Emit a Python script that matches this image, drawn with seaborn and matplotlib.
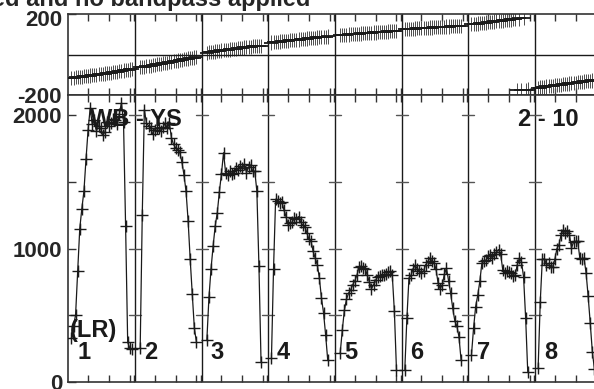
import numpy as np
import pandas as pd
import seaborn as sns
import matplotlib.pyplot as plt
from matplotlib import transforms

nan = np.nan

# channel amplitudes per IF (32 channels each)
amp_if1 = [nan, 330, 420, 505, 830, 1150, 1300, 1430, 1670, 1890, 2050, 1930, 1960, 1880, 1920, 1900,
           1850, 1870, 1950, 1920, 1940, 1970, 1960, 1930, 2010, 2090, 1950, 1170, 300, 255, 250, nan]
amp_if2 = [nan, nan, 255, 1255, 2040, 1940, 1920, 1905, 1855, 1890, 1905, 1900, 1880, 1910, 1940, 1900,
           1940, 1830, 1780, 1755, 1740, 1720, 1650, 1555, 1430, 1210, 920, 660, 405, 300, nan, nan]
amp_if3 = [nan, nan, 318, 635, 850, 1018, 1170, 1268, 1425, 1560, 1718, 1570, 1555, 1580, 1560, 1570,
           1600, 1585, 1620, 1600, 1630, 1570, 1610, 1625, 1580, 1580, 1430, 868, 155, nan, nan, nan]
amp_if4 = [nan, 180, 850, 1370, 1360, 1340, 1350, 1290, 1240, 1180, 1190, 1200, 1230, 1225, 1240, 1200,
           1175, 1165, 1120, 1070, 1055, 980, 930, 880, 780, 630, 520, 355, 168, nan, nan, nan]
amp_if5 = [nan, nan, 220, 390, 540, 620, 667, 690, 730, 760, 800, 860, 870, 855, 850, 800,
           750, 700, 730, 765, 790, 795, 800, 805, 810, 825, 830, 800, 530, 95, nan, nan]
amp_if6 = [nan, 95, 480, 780, 800, 850, 875, 850, 830, 820, 830, 880, 900, 930, 910, 895,
           845, 740, 700, 730, 810, 855, 760, 667, 555, 460, 420, 340, 168, nan, nan, nan]
amp_if7 = [nan, 205, 405, 567, 650, 755, 893, 905, 915, 945, 955, 930, 960, 975, 993, 960,
           843, 818, 830, 825, 818, 793, 805, 880, 930, 900, 790, 480, 80, nan, nan, nan]
amp_if8 = [nan, 110, 600, 920, 925, 880, 890, 860, 860, 920, 1000, 1030, 1105, 1140, 1120, 1130,
           1105, 1005, 1050, 1055, 1055, 930, 920, 930, 820, 643, 443, 230, 100, nan, nan, nan]

# channel phases per IF (degrees)
ph_if1 = [-118, -116, -115, -113, -112, -110, -111, -108, -106, -105, -104, -102, -101, -100, -98, -98,
          -96, -94, -93, -92, -90, -88, -88, -85, -83, -80, -79, -77, -76, -74, -73, -72]
ph_if2 = [-66, -64, -63, -61, -60, -58, -56, -55, -52, -51, -48, -47, -45, -43, -41, -40,
          -37, -35, -34, -31, -30, -28, -26, -24, -22, -20, -18, -16, -15, -13, -12, -10]
ph_if3 = [6, 8, 9, 11, 12, 14, 15, 17, 18, 20, 21, 22, 24, 25, 27, 28,
          29, 31, 32, 33, 35, 36, 37, 38, 40, 41, 42, 43, 44, 45, 46, 47]
ph_if4 = [57, 59, 60, 61, 62, 64, 65, 66, 67, 68, 70, 71, 72, 73, 74, 75,
          77, 78, 79, 80, 81, 82, 83, 84, 85, 86, 87, 88, 89, 90, 90, 91]
ph_if5 = [94, 95, 96, 97, 97, 98, 99, 100, 101, 102, 102, 103, 104, 105, 105, 106,
          107, 108, 109, 109, 110, 111, 112, 112, 113, 114, 115, 116, 116, 117, 118, 118]
ph_if6 = [124, 125, 125, 126, 127, 127, 128, 129, 129, 130, 131, 131, 132, 133, 133, 134,
          135, 135, 136, 137, 137, 138, 138, 139, 140, 140, 141, 141, 142, 142, 143, 143]
ph_if7 = [148, 150, 151, 152, 153, 155, 156, 157, 158, 160, 161, 162, 163, 165, 166, 167,
          168, 170, 171, 172, 173, 174, 176, -175, 178, -176, 179, -174, -173, -172, -171, -170]
ph_if8 = [-166, -164, -163, -161, -160, -158, -157, -156, -154, -153, -151, -150, -149, -147, -146, -144,
          -143, -142, -140, -139, -137, -136, -135, -133, -132, -130, -129, -128, -126, -125, -123, -122]

if_labels = ['1', '2', '3', '4', '5', '6', '7', '8']
amp_ticks = [0, 500, 1000, 1500, 2000]
amp_labels = ['0', '', '1000', '', '2000']
ph_ticks = [-200, 200]
ph_labels = ['-200', '200']

amps = [amp_if1, amp_if2, amp_if3, amp_if4, amp_if5, amp_if6, amp_if7, amp_if8]
phases = [ph_if1, ph_if2, ph_if3, ph_if4, ph_if5, ph_if6, ph_if7, ph_if8]
NCH = 32

rows = []
for k, (a, p) in enumerate(zip(amps, phases)):
    for c in range(NCH):
        rows.append({'ifnum': k + 1, 'x': k * NCH + c + 0.5, 'amp': a[c], 'phase': p[c]})
df = pd.DataFrame(rows)
df.loc[df['amp'].isna(), 'phase'] = nan
dfp = df.dropna(subset=['phase'])

sns.set_theme(style='white')
plt.rcParams['font.family'] = ['Liberation Sans', 'DejaVu Sans']
plt.rcParams['font.weight'] = 'bold'

W, H = 594, 389
fig = plt.figure(figsize=(W / 100, H / 100), dpi=100)


def rect(l, t, r, b):
    return [l / W, 1 - b / H, (r - l) / W, (b - t) / H]


ax_ph = fig.add_axes(rect(68.3, 14, 601.7, 95))
ax_amp = fig.add_axes(rect(68.3, 95, 601.7, 382.3), sharex=ax_ph)

# phase panel
ax_ph.vlines(dfp['x'], dfp['phase'] - 35, dfp['phase'] + 35, color='#4d4d4d', lw=0.7, zorder=2)
sns.scatterplot(data=dfp, x='x', y='phase', marker='_', s=110, color='k', linewidth=1.3,
                ax=ax_ph, zorder=3, legend=False)
ax_ph.axhline(0, color='k', lw=1)
ax_ph.set_ylim(-200, 200)
ax_ph.set_yticks(ph_ticks)
ax_ph.set_yticklabels(ph_labels)

# amplitude panel
dfa = df.dropna(subset=['amp'])
ax_amp.vlines(dfa['x'], dfa['amp'] - 35, dfa['amp'] + 35, color='#666666', lw=0.8, zorder=2)
sns.lineplot(data=dfa, x='x', y='amp', units='ifnum', estimator=None, color='k', lw=0.9,
             marker='+', markersize=9, markeredgewidth=1.0, markeredgecolor='k',
             ax=ax_amp, zorder=3, legend=False)
ax_amp.set_ylim(0, 2150)
ax_amp.set_yticks(amp_ticks)
ax_amp.set_yticklabels(amp_labels)

ax_amp.set_xlim(0, NCH * len(amps))
xt = [k * NCH + c - 0.5 for k in range(len(amps)) for c in (10, 20, 30, 32)]
for ax in (ax_ph, ax_amp):
    ax.set_xlabel('')
    ax.set_ylabel('')
    ax.set_xticks(xt)
    ax.tick_params(axis='x', direction='in', length=5, width=1, top=True, bottom=True,
                   labelbottom=False, color='#333333')
    ax.tick_params(axis='y', direction='in', length=6, width=1, left=True, right=False,
                   labelsize=16, pad=4.5, color='#333333')
    for sp in ax.spines.values():
        sp.set_color('#333333')
        sp.set_linewidth(1.2)
    for k in range(1, len(amps)):
        ax.axvline(k * NCH, color='k', lw=1, zorder=1)

# the top phase label sits a little below its tick, as in the original
shift = transforms.ScaledTranslation(0, -3.5 / 100, fig.dpi_scale_trans)
top_lab = ax_ph.yaxis.get_major_ticks()[1].label1
top_lab.set_transform(top_lab.get_transform() + shift)

# short marks on IF boundaries in the amplitude panel
for k in range(1, len(amps)):
    for v in amp_ticks[1:]:
        ax_amp.plot([k * NCH - 2.9, k * NCH + 2.9], [v, v], color='#555555', lw=1, zorder=1)

lab = dict(fontsize=17, fontweight='bold', color='k')
bt = transforms.blended_transform_factory(ax_amp.transData, ax_amp.transAxes)
for k, name in enumerate(if_labels):
    ax_amp.text(k * NCH + 4.2, 0.104, name, transform=bt, ha='left', va='center', **lab)
ax_amp.text(0.003, 0.179, '(LR)', transform=ax_amp.transAxes, ha='left', va='center', **lab)
ax_amp.text(0.041, 0.916, 'WB - YS', transform=ax_amp.transAxes, ha='left', va='center', **lab)
ax_amp.text(0.843, 0.913, '2 - 10', transform=ax_amp.transAxes, ha='left', va='center', **lab)

fig.text(310 / W, 1 - 6.0 / H, 'Calibrated and no bandpass applied', ha='right', va='baseline',
         fontsize=17, fontweight='bold')

fig.savefig('out.png', dpi=100)
